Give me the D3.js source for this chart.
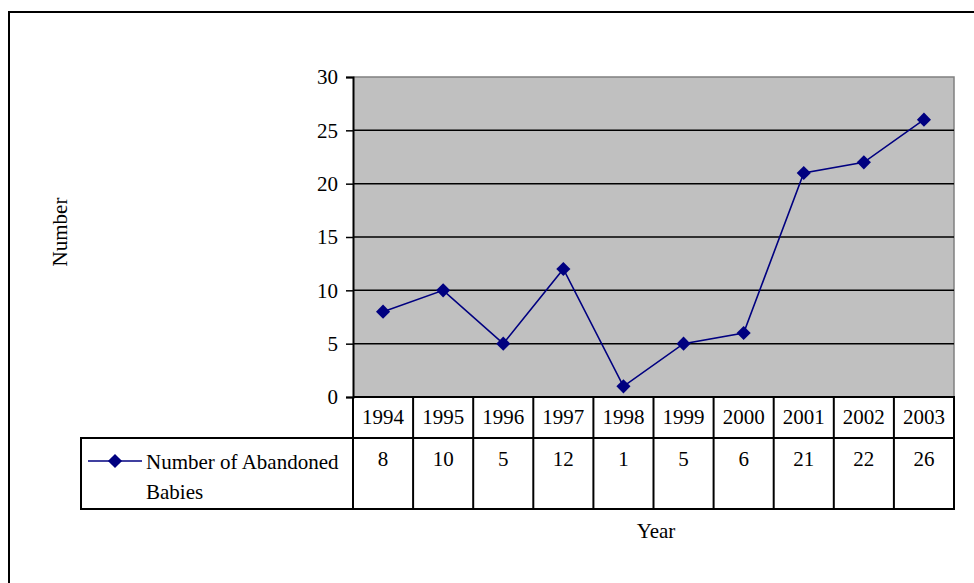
<!DOCTYPE html>
<meta charset="utf-8">
<style>
body { margin: 0; background: #fff; }
</style>
<svg width="974" height="583"></svg>
<script src="https://cdn.jsdelivr.net/npm/d3@7"></script>
<script>

var years = ["1994", "1995", "1996", "1997", "1998", "1999", "2000", "2001", "2002", "2003"];
var babies = [8, 10, 5, 12, 1, 5, 6, 21, 22, 26];
var yTicks = [0, 5, 10, 15, 20, 25, 30];
var seriesName = ["Number of Abandoned", "Babies"];

var serif = "Liberation Serif";
var fs = 21;

var svg = d3.select("svg");

var margin = {left: 353, top: 77, right: 954, bottom: 397};

// outer frame
svg.append("rect")
    .attr("x", 9).attr("y", 12)
    .attr("width", 980).attr("height", 600)
    .attr("fill", "none").attr("stroke", "#000").attr("stroke-width", 2);

var x = d3.scaleBand()
    .domain(years)
    .range([margin.left, margin.right]);

var y = d3.scaleLinear()
    .domain([0, 30])
    .range([margin.bottom, margin.top]);

// plot area
svg.append("rect")
    .attr("x", margin.left).attr("y", margin.top)
    .attr("width", margin.right - margin.left)
    .attr("height", margin.bottom - margin.top)
    .attr("fill", "#c0c0c0");

svg.append("path")
    .attr("d", "M" + margin.left + "," + margin.top + "H" + margin.right + "V" + margin.bottom)
    .attr("fill", "none").attr("stroke", "#808080").attr("stroke-width", 1.5);

// gridlines
svg.append("g").selectAll("line")
    .data(yTicks.filter(function(d) { return d > 0 && d < 30; }))
  .enter().append("line")
    .attr("x1", margin.left).attr("x2", margin.right)
    .attr("y1", function(d) { return y(d); })
    .attr("y2", function(d) { return y(d); })
    .attr("stroke", "#000").attr("stroke-width", 1.5);

// y axis
var yAxis = svg.append("g")
    .attr("transform", "translate(" + margin.left + ",0)")
    .call(d3.axisLeft(y).tickValues(yTicks).tickSize(7).tickPadding(8));
yAxis.attr("font-family", null).attr("font-size", null);
yAxis.select(".domain").attr("stroke", "#000").attr("stroke-width", 2);
yAxis.selectAll(".tick line").attr("stroke", "#000").attr("stroke-width", 1.5);
yAxis.selectAll("text")
    .style("font-family", serif)
    .attr("font-size", fs)
    .attr("fill", "#000");

// data table
var rowTop = margin.bottom, rowMid = 438, rowBot = 509, legLeft = 81;
var tbl = svg.append("g").attr("stroke", "#000").attr("stroke-width", 2).attr("fill", "none");
tbl.append("path").attr("d",
    "M" + margin.left + "," + rowTop + "H" + margin.right + "V" + rowBot + "H" + legLeft +
    "V" + rowMid + "H" + margin.right);
tbl.selectAll(".col")
    .data(years)
  .enter().append("line")
    .attr("x1", function(d) { return x(d); })
    .attr("x2", function(d) { return x(d); })
    .attr("y1", rowTop).attr("y2", rowBot);

svg.append("g").selectAll("text")
    .data(years)
  .enter().append("text")
    .attr("x", function(d) { return x(d) + x.bandwidth() / 2; })
    .attr("y", 424)
    .attr("text-anchor", "middle")
    .style("font-family", serif).attr("font-size", fs)
    .text(function(d) { return d; });

svg.append("g").selectAll("text")
    .data(babies)
  .enter().append("text")
    .attr("x", function(d, i) { return x(years[i]) + x.bandwidth() / 2; })
    .attr("y", 466)
    .attr("text-anchor", "middle")
    .style("font-family", serif).attr("font-size", fs)
    .text(function(d) { return d; });

// legend
var diamond = d3.symbol().type(d3.symbolSquare).size(100);
svg.append("line")
    .attr("x1", 88).attr("x2", 142).attr("y1", 461).attr("y2", 461)
    .attr("stroke", "#000080").attr("stroke-width", 1.5);
svg.append("path")
    .attr("d", diamond)
    .attr("transform", "translate(115,461) rotate(45)")
    .attr("fill", "#000080");
svg.append("g").selectAll("text")
    .data(seriesName)
  .enter().append("text")
    .attr("x", 146)
    .attr("y", function(d, i) { return 469 + i * 30; })
    .style("font-family", serif).attr("font-size", fs)
    .text(function(d) { return d; });

// series
var line = d3.line()
    .x(function(d, i) { return x(years[i]) + x.bandwidth() / 2; })
    .y(function(d) { return y(d); });

svg.append("path")
    .datum(babies)
    .attr("d", line)
    .attr("fill", "none")
    .attr("stroke", "#000080")
    .attr("stroke-width", 1.6);

svg.append("g").selectAll("path")
    .data(babies)
  .enter().append("path")
    .attr("d", diamond)
    .attr("transform", function(d, i) {
      return "translate(" + (x(years[i]) + x.bandwidth() / 2) + "," + y(d) + ") rotate(45)";
    })
    .attr("fill", "#000080");

// axis titles
svg.append("text")
    .attr("transform", "translate(67,232) rotate(-90)")
    .attr("text-anchor", "middle")
    .style("font-family", serif).attr("font-size", fs)
    .text("Number");

svg.append("text")
    .attr("x", 656).attr("y", 538)
    .attr("text-anchor", "middle")
    .style("font-family", serif).attr("font-size", fs)
    .text("Year");

</script>
